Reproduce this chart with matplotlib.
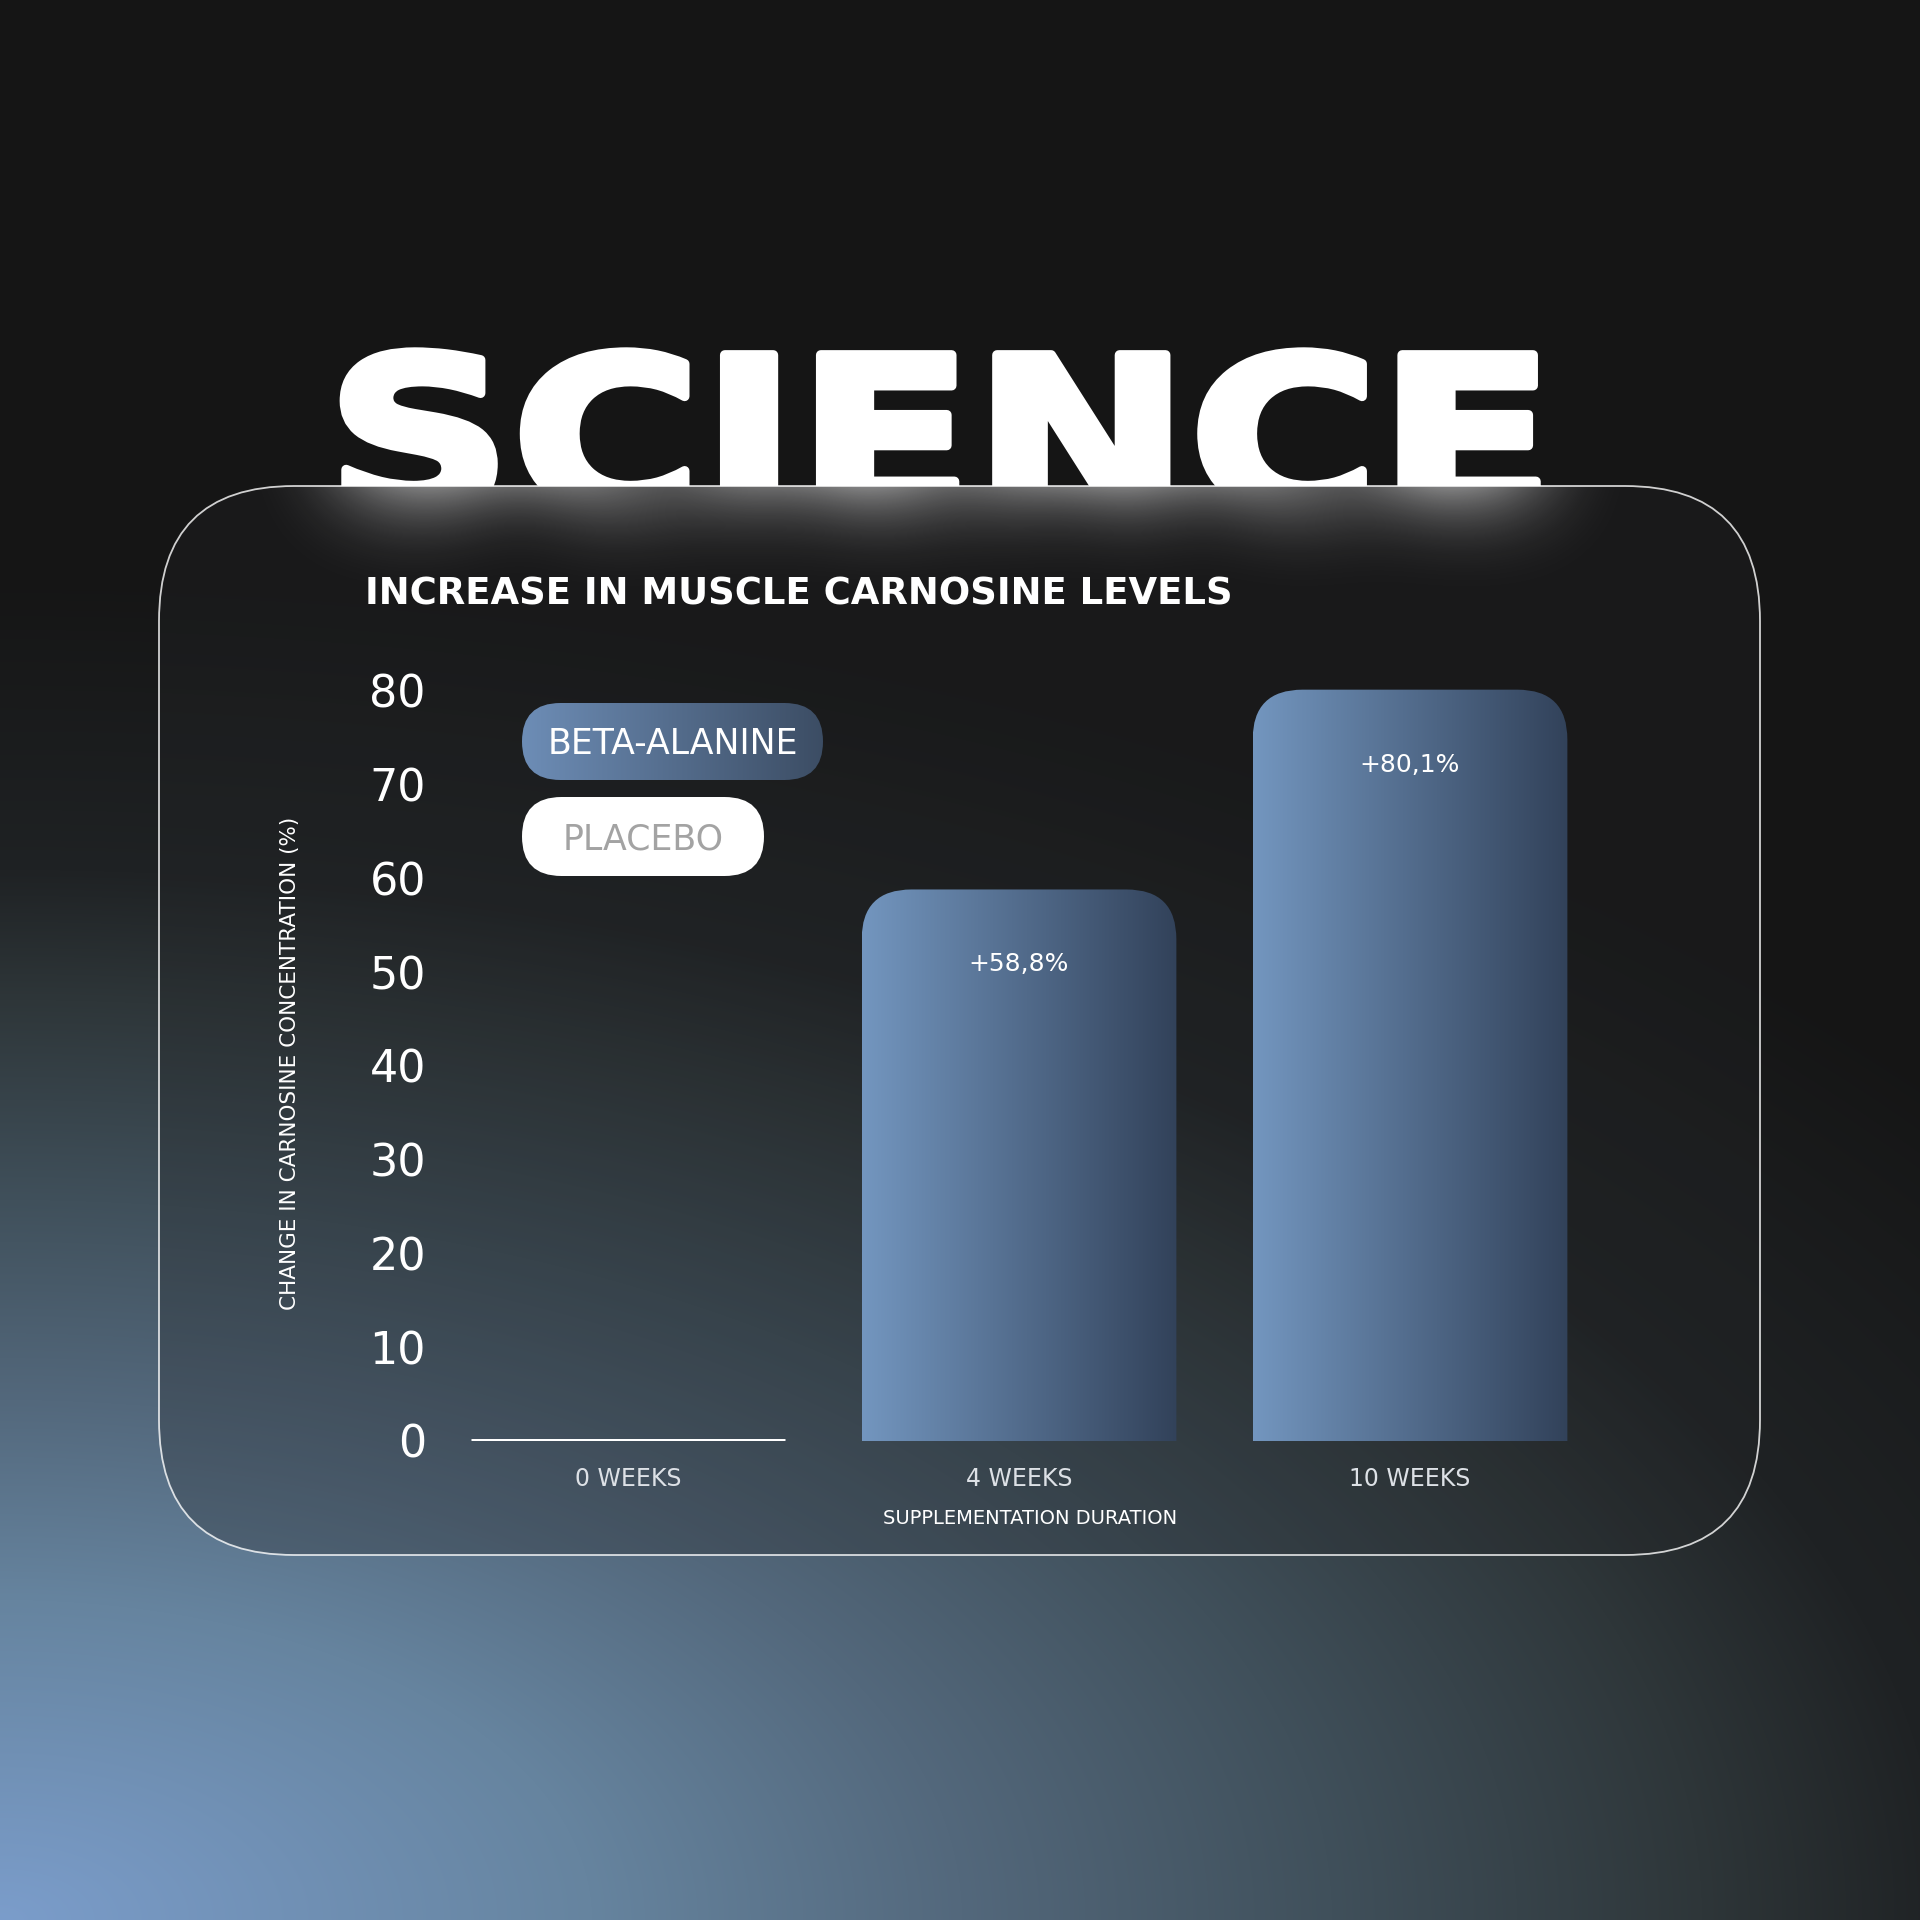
import numpy as np
import matplotlib
matplotlib.use("Agg")
import matplotlib.pyplot as plt
from matplotlib.patches import FancyBboxPatch, PathPatch
from matplotlib.path import Path
from matplotlib.colors import to_rgb
from matplotlib.transforms import Affine2D
import matplotlib.patheffects as pe

# ---------------- data ----------------
categories = ["0 WEEKS", "4 WEEKS", "10 WEEKS"]
beta_alanine = [0.0, 58.8, 80.1]
bar_labels = ["", "+58,8%", "+80,1%"]
series_names = ["BETA-ALANINE", "PLACEBO"]
y_ticks = [0, 10, 20, 30, 40, 50, 60, 70, 80]
headline = "SCIENCE"
title = "INCREASE IN MUSCLE CARNOSINE LEVELS"
x_label = "SUPPLEMENTATION DURATION"
y_label = "CHANGE IN CARNOSINE CONCENTRATION (%)"

# ---------------- setup ----------------
W = H = 1920
DPI = 100
plt.rcParams['font.family'] = ['DejaVu Sans']
PT = 72.0 / DPI  # points per pixel

fig = plt.figure(figsize=(W / DPI, H / DPI), dpi=DPI)
fig.patch.set_facecolor("#151515")
bg = fig.add_axes([0, 0, 1, 1], zorder=0)
bg.set_xlim(0, W)
bg.set_ylim(H, 0)
bg.axis('off')
renderer = fig.canvas.get_renderer()

# background gradient (elliptical glow from bottom-left corner)
yy, xx = np.mgrid[0:H, 0:W] + 0.5
tt = np.sqrt((xx / 1850.0) ** 2 + ((H - yy) / 1000.0) ** 2)
stops_t = [0.0, 0.32, 0.52, 0.72, 0.92, 1.05, 1.35]
stops_c = ["#7b9dcb", "#66849f", "#53687c", "#40505b", "#2e3639", "#1f2224", "#151515"]
cols = np.array([to_rgb(c) for c in stops_c])
bg_img = np.stack([np.interp(tt, stops_t, cols[:, k]) for k in range(3)], axis=-1)
bg.imshow(bg_img, extent=(0, W, H, 0), zorder=0, aspect='auto', interpolation='bilinear')


# ---------------- headline (extended via a horizontal-stretch path effect) ----------------
class StretchFill(pe.AbstractPathEffect):
    def __init__(self, sx, lw=0.0, color='white'):
        super().__init__()
        self.sx, self.lw, self.color = sx, lw, color

    def draw_path(self, renderer, gc, tpath, affine, rgbFace=None):
        aff = Affine2D().scale(self.sx, 1.0) + affine
        gc0 = renderer.new_gc()
        gc0.copy_properties(gc)
        gc0.set_linewidth(self.lw)
        gc0.set_foreground(self.color)
        gc0.set_joinstyle('round')
        renderer.draw_path(gc0, tpath, aff, rgbFace)
        gc0.restore()


SCI_X, SCI_TOP, SCI_BASE, SCI_W = 326, 355, 512, 1229
CAP = 0.729
fs_sci = (SCI_BASE - SCI_TOP) / CAP * PT
probe = bg.text(SCI_X, SCI_BASE, headline, fontsize=fs_sci, fontweight='bold')
w0 = probe.get_window_extent(renderer).width
probe.remove()
sx_sci = SCI_W / w0
sci_fx = [StretchFill(sx_sci, lw=7, color='white')]
bg.text(SCI_X, SCI_BASE, headline, fontsize=fs_sci, fontweight='bold', color='white',
        ha='left', va='baseline', zorder=1, path_effects=sci_fx)

# blurred copy of the headline for the frosted-glass glow
fig2 = plt.figure(figsize=(W / DPI, H / DPI), dpi=DPI, facecolor='black')
ax2 = fig2.add_axes([0, 0, 1, 1])
ax2.set_xlim(0, W)
ax2.set_ylim(H, 0)
ax2.axis('off')
ax2.set_facecolor('black')
ax2.text(SCI_X, SCI_BASE, headline, fontsize=fs_sci, fontweight='bold', color='white',
         ha='left', va='baseline', path_effects=sci_fx)
fig2.canvas.draw()
mask = np.asarray(fig2.canvas.buffer_rgba())[:, :, 0].astype(float) / 255.0
plt.close(fig2)


def blur1d(a, r, axis):
    a = np.moveaxis(a, axis, 0)
    p = np.pad(a, ((r + 1, r), (0, 0)), mode='edge')
    c = np.cumsum(p, axis=0)
    out = (c[2 * r + 1:] - c[:-2 * r - 1]) / (2 * r + 1)
    return np.moveaxis(out, 0, axis)


glow = mask
for _ in range(3):
    glow = blur1d(glow, 40, 0)
    glow = blur1d(glow, 40, 1)

# ---------------- card ----------------
CX, CY, CW, CH, CR = 159, 486, 1601, 1069, 135
falloff = np.exp(-np.clip(yy - CY, 0, None) / 70.0)


def card_patch(**kw):
    return FancyBboxPatch((CX, CY), CW, CH, boxstyle=f"round,pad=0,rounding_size={CR}",
                          transform=bg.transData, **kw)


clip_card = card_patch(facecolor='none', edgecolor='none')
bg.add_patch(clip_card)
cim = bg.imshow(bg_img, extent=(0, W, H, 0), zorder=2, aspect='auto', interpolation='bilinear')
cim.set_clip_path(clip_card)
bg.add_patch(card_patch(facecolor="#232527", alpha=0.3, edgecolor='none', zorder=3))
glow_rgba = np.ones((H, W, 4))
glow_rgba[:, :, 3] = np.clip(glow * 1.3, 0, 1) * 0.62 * falloff
gim = bg.imshow(glow_rgba, extent=(0, W, H, 0), zorder=4, aspect='auto', interpolation='bilinear')
gim.set_clip_path(clip_card)
bg.add_patch(card_patch(facecolor='none', edgecolor=(1, 1, 1, 0.8), lw=1.3, zorder=5))

# ---------------- title ----------------
tt_ = bg.text(365, 0, title, fontsize=30, fontweight='bold', color='white',
              ha='left', va='baseline', zorder=6)
bbt = tt_.get_window_extent(renderer)
fs_t = 30 * 869 / bbt.width
tt_.set_fontsize(fs_t)
tt_.set_y(591 + CAP * (fs_t / PT) / 2)

# ---------------- chart axes ----------------
x_c0, x_c2 = 628.0, 1410.0          # pixel centres of first / last category
unit_x = (x_c2 - x_c0) / 2
y0_px = 1441.0
unit_y = 9.38                         # pixels per percentage point
ymax = 86
ax_left = x_c0 - 0.5 * unit_x
ax_w = 3 * unit_x
ax_h = ymax * unit_y
ax = fig.add_axes([ax_left / W, (H - y0_px) / H, ax_w / W, ax_h / H], zorder=2)
ax.set_xlim(-0.5, 2.5)
ax.set_ylim(0, ymax)
ax.patch.set_alpha(0)
for s in ax.spines.values():
    s.set_visible(False)

bars = ax.bar(range(len(categories)), beta_alanine, width=0.805, color='none', edgecolor='none')

inv = bg.transData.inverted()
RB = 50
for b, v in zip(bars, beta_alanine):
    (x0, yb), (x1, yt) = inv.transform(ax.transData.transform(
        [(b.get_x(), 0), (b.get_x() + b.get_width(), b.get_height())]))
    if v <= 0:
        ax.plot([b.get_x(), b.get_x() + b.get_width()], [0, 0], color='white', lw=5 * PT,
                solid_capstyle='butt', zorder=3)
        continue
    r = min(RB, (yb - yt) / 2)
    verts = [(x0, yb), (x0, yt + r), (x0, yt), (x0 + r, yt), (x1 - r, yt), (x1, yt),
             (x1, yt + r), (x1, yb), (x0, yb)]
    codes = [Path.MOVETO, Path.LINETO, Path.CURVE3, Path.CURVE3, Path.LINETO, Path.CURVE3,
             Path.CURVE3, Path.LINETO, Path.CLOSEPOLY]
    pp = PathPatch(Path(verts, codes), facecolor='none', edgecolor='none', transform=bg.transData)
    bg.add_patch(pp)
    grad = np.linspace(0, 1, 256)
    c0, c1 = np.array(to_rgb("#7396bf")), np.array(to_rgb("#32425a"))
    gimg = (c0[None, :] * (1 - grad[:, None]) + c1[None, :] * grad[:, None])[None, :, :]
    im = bg.imshow(gimg, extent=(x0, x1, yb, yt), zorder=7, aspect='auto', interpolation='bilinear')
    im.set_clip_path(pp)

for i, (v, lab) in enumerate(zip(beta_alanine, bar_labels)):
    if lab:
        ax.annotate(lab, xy=(i, v), xytext=(0, -75 * PT), textcoords='offset points',
                    ha='center', va='center', fontsize=18, color='white', zorder=5)

ax.set_yticks(y_ticks)
ax.set_yticklabels([str(t) for t in y_ticks], fontsize=32, color='white')
ax.set_xticks(range(len(categories)))
ax.set_xticklabels(categories, fontsize=17, color='#dde1e6')
ax.tick_params(axis='y', length=0, pad=(ax_left - 426) * PT)
ax.tick_params(axis='x', length=0, pad=26 * PT)

ax.set_xlabel(x_label, fontsize=14, color='white', va='center')
ax.xaxis.set_label_coords((1030 - ax_left) / ax_w, (y0_px - 1518) / ax_h)
ax.set_ylabel(y_label, fontsize=15.5, color='white', va='center')
ax.yaxis.set_label_coords((290 - ax_left) / ax_w, (y0_px - 1063) / ax_h)

# ---------------- legend pills ----------------
pills = [(522, 703, 301, 77), (522, 797, 242, 79)]
for k, (name, (px0, py0, pw, ph)) in enumerate(zip(series_names, pills)):
    style = f"round,pad=0,rounding_size={ph / 2}"
    if k == 0:
        pp = FancyBboxPatch((px0, py0), pw, ph, boxstyle=style, facecolor='none',
                            edgecolor='none', transform=bg.transData)
        bg.add_patch(pp)
        grad = np.linspace(0, 1, 256)
        c0, c1 = np.array(to_rgb("#6d8db6")), np.array(to_rgb("#3c4d64"))
        gimg = (c0[None, :] * (1 - grad[:, None]) + c1[None, :] * grad[:, None])[None, :, :]
        im = bg.imshow(gimg, extent=(px0, px0 + pw, py0 + ph, py0), zorder=7, aspect='auto',
                       interpolation='bilinear')
        im.set_clip_path(pp)
        tcol = 'white'
    else:
        bg.add_patch(FancyBboxPatch((px0, py0), pw, ph, boxstyle=style, facecolor='white',
                                    edgecolor='none', zorder=7))
        tcol = '#a3a3a3'
    fs_p = 25
    bg.text(px0 + pw / 2, py0 + ph / 2 + CAP * (fs_p / PT) / 2, name, fontsize=fs_p,
            color=tcol, ha='center', va='baseline', zorder=8)

fig.savefig("out.png", dpi=DPI, facecolor=fig.get_facecolor())
